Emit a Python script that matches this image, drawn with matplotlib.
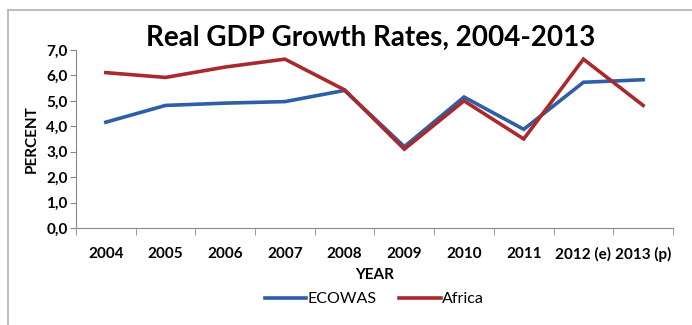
import matplotlib.pyplot as plt
from matplotlib.patches import Rectangle
import numpy as np

years = ['2004', '2005', '2006', '2007', '2008', '2009', '2010', '2011', '2012 (e)', '2013 (p)']
ecowas = [4.16, 4.82, 4.91, 4.97, 5.41, 3.20, 5.15, 3.88, 5.73, 5.83]
africa = [6.11, 5.92, 6.33, 6.64, 5.43, 3.10, 5.00, 3.50, 6.64, 4.82]

plt.rcParams['font.family'] = ['Lato', 'DejaVu Sans']

fig = plt.figure(figsize=(6.92, 3.25), dpi=100)
ax = fig.add_axes([0.1098, 0.2985, 0.8627, 0.5477])

# grey frame around the chart, running off the right and bottom edges
fig.patches.append(Rectangle((0.011, -0.05), 1.2, 1.02, transform=fig.transFigure,
                             fill=False, edgecolor='#b0b0b0', linewidth=1.2))

x = np.arange(len(years))
ax.plot(x, ecowas, color='#2e5ea8', linewidth=2.6, label='ECOWAS', solid_joinstyle='miter')
ax.plot(x, africa, color='#a92a2c', linewidth=2.6, label='Africa', solid_joinstyle='miter')

ax.set_xlim(-0.5, len(years) - 0.5)
ax.set_ylim(0, 7)
ax.set_yticks(np.arange(0, 8, 1))
ax.set_yticklabels([f'{v:.1f}'.replace('.', ',') for v in range(8)], fontweight='bold', fontsize=11)
ax.set_xticks(x)
ax.set_xticklabels(years, fontweight='bold', fontsize=11)
ax.set_xticks(np.arange(-0.5, len(years)), minor=True)
ax.tick_params(axis='x', which='major', length=0, pad=14)
ax.tick_params(axis='x', which='minor', length=5, color='#888888')
ax.tick_params(axis='y', length=4, color='#888888', pad=2)

for s in ['top', 'right']:
    ax.spines[s].set_visible(False)
for s in ['left', 'bottom']:
    ax.spines[s].set_color('#888888')

ax.set_xlabel('YEAR', fontweight='bold', fontsize=11, labelpad=4)
ax.set_ylabel('PERCENT', fontweight='bold', fontsize=11, labelpad=5)
fig.text(0.535, 0.885, 'Real GDP Growth Rates, 2004-2013', ha='center', va='center',
         fontsize=20, fontweight='bold')

ax.legend(loc='upper center', bbox_to_anchor=(0.5, -0.28), ncol=2, frameon=False,
          fontsize=11.5, handlelength=2.6, handletextpad=0.1, columnspacing=1.4)

fig.savefig('out.png', dpi=100)
